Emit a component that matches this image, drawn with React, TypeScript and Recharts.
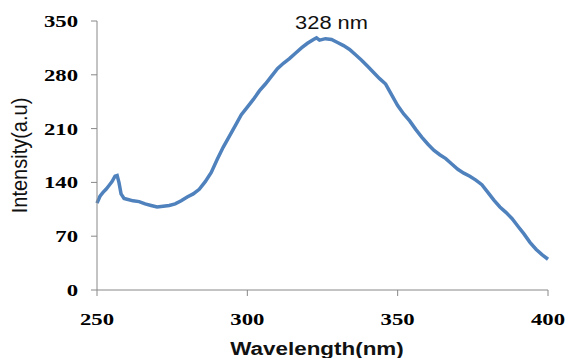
import { LineChart, Line, XAxis, YAxis, ReferenceDot } from "recharts";

const wavelengths = [
  250, 251, 252, 253, 254, 255, 256, 256.7, 257.3, 258, 259, 260, 262, 264, 266, 268, 270, 272, 274, 276, 278,
  280, 282, 284, 286, 288, 290, 292, 294, 296, 298, 300, 302, 304, 306, 308, 310, 312, 314, 316, 318, 320, 322,
  323, 324, 326, 328, 330, 332, 334, 336, 338, 340, 342, 344, 346, 348, 350, 352, 354, 356, 358, 360, 362, 364,
  366, 368, 370, 372, 374, 376, 378, 380, 382, 384, 386, 388, 390, 392, 394, 396, 398, 400,
];
const intensity = [
  113, 122, 127, 131, 136, 141, 148, 149, 140, 125, 119, 118, 116, 115, 112, 110, 108, 109, 110, 112, 116,
  121, 125, 131, 141, 153, 170, 186, 200, 214, 228, 238, 248, 259, 268, 278, 288, 295, 301, 308, 315, 321, 326,
  328, 325, 327, 326, 322, 318, 313, 306, 299, 291, 283, 275, 268, 254, 240, 229, 220, 209, 199, 190, 182, 176,
  171, 164, 157, 152, 148, 143, 137, 127, 117, 108, 101, 93, 83, 73, 62, 53, 46, 40,
];
const xTicks = [250, 300, 350, 400];
const yTicks = [0, 70, 140, 210, 280, 350];
const peak = { x: 328, y: 339, label: "328 nm" };

const data = wavelengths.map((w, i) => ({ w, v: intensity[i] }));

const serif = "'Liberation Serif', 'Times New Roman', serif";
const sans = "'Liberation Sans', Arial, sans-serif";

const XTick = ({ x, y, payload }: any) => (
  <text
    transform={`translate(${x},${y + 29}) scale(1.3,1)`}
    textAnchor="middle"
    fontFamily={serif}
    fontWeight="bold"
    fontSize={17.5}
    fill="#000"
  >
    {payload.value}
  </text>
);

const YTick = ({ x, y, payload }: any) => (
  <text
    transform={`translate(${x},${y + 6}) scale(1.3,1)`}
    textAnchor="end"
    fontFamily={serif}
    fontWeight="bold"
    fontSize={17.5}
    fill="#000"
  >
    {payload.value}
  </text>
);

const XTitle = ({ viewBox }: any) => (
  <text
    transform={`translate(${viewBox.x + viewBox.width / 2 - 5.5},${viewBox.y + 65}) scale(1.18,1)`}
    textAnchor="middle"
    fontFamily={sans}
    fontWeight="bold"
    fontSize={19}
    fill="#111"
  >
    Wavelength(nm)
  </text>
);

const YTitle = () => (
  <text
    transform="translate(27,155.5) rotate(-90) scale(1,1.1)"
    textAnchor="middle"
    fontFamily={sans}
    fontSize={20}
    fill="#111"
  >
    Intensity(a.u)
  </text>
);

const PeakLabel = ({ cx, cy }: any) => (
  <text
    transform={`translate(${cx},${cy}) scale(1.15,1)`}
    textAnchor="middle"
    fontFamily={sans}
    fontSize={19}
    fill="#111"
  >
    {peak.label}
  </text>
);

export default function App() {
  return (
    <div style={{ position: "absolute", left: 0, top: 0, width: 568, height: 358, background: "#fff" }}>
      <LineChart width={568} height={358} data={data} margin={{ top: 21, right: 20, bottom: 0, left: 0 }}>
        <XAxis
          dataKey="w"
          type="number"
          domain={[250, 400]}
          ticks={xTicks}
          height={68}
          stroke="#888"
          tickSize={6}
          tickMargin={0}
          tick={<XTick />}
          label={<XTitle />}
        />
        <YAxis
          type="number"
          domain={[0, 350]}
          ticks={yTicks}
          width={97}
          stroke="#888"
          tickSize={6}
          tickMargin={13}
          tick={<YTick />}
          label={<YTitle />}
        />
        <Line
          type="linear"
          dataKey="v"
          stroke="#4F81BD"
          strokeWidth={3.5}
          dot={false}
          isAnimationActive={false}
        />
        <ReferenceDot x={peak.x} y={peak.y} r={1} shape={<PeakLabel />} />
      </LineChart>
    </div>
  );
}
